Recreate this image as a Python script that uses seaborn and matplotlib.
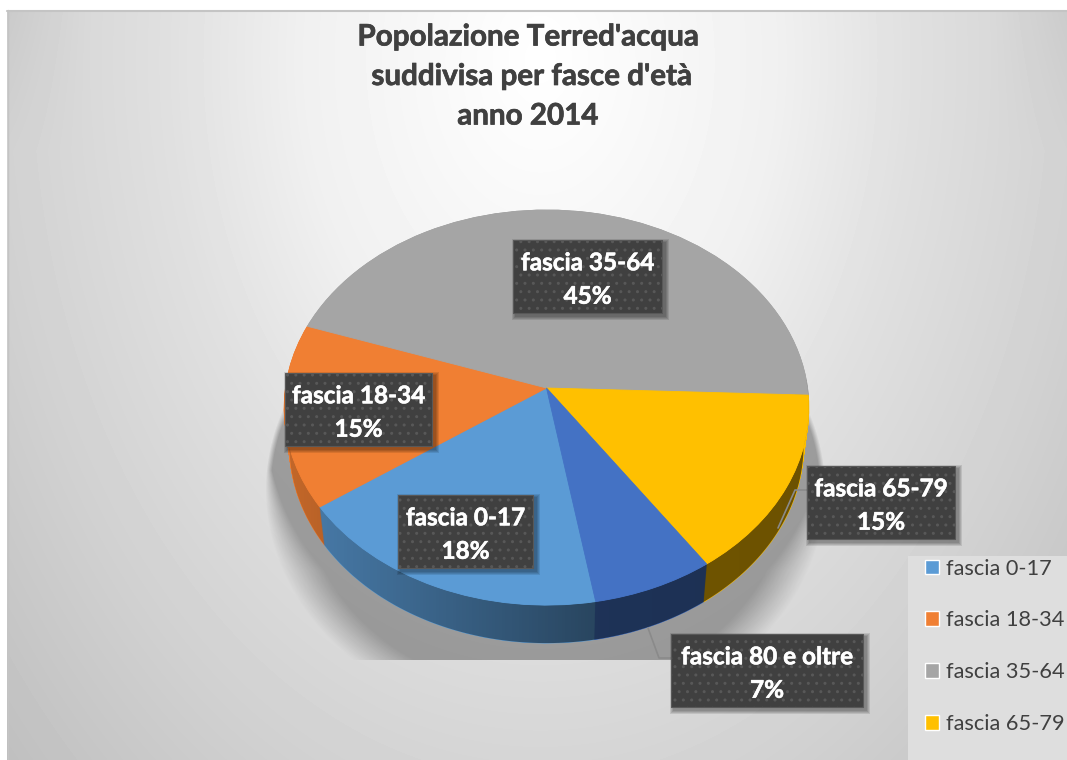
#!/usr/bin/env python
# -*- coding: utf-8 -*-
import matplotlib
matplotlib.use("Agg")
import matplotlib.pyplot as plt
import matplotlib.patheffects as pe
from matplotlib.patches import PathPatch, Rectangle
from matplotlib.path import Path
from matplotlib.transforms import Transform
import numpy as np
import seaborn as sns

# dati (le etichette mostrano i valori arrotondati)
fasce = ["fascia 0-17", "fascia 18-34", "fascia 35-64", "fascia 65-79", "fascia 80 e oltre"]
percentuali = [18.0, 15.0, 45.3, 14.9, 6.8]
colori = ["#5B9BD5", "#F07F33", "#A5A5A5", "#FFC000", "#4472C4"]
titolo = "Popolazione Terred'acqua\n suddivisa per fasce d'età\nanno 2014"

sns.set_theme(style="white")
plt.rcParams["font.family"] = ["Lato", "DejaVu Sans"]

W, H = 1067, 760
CX, CY = 546.5, 388
INIZIO = -80.2
SPESSORE = 38


class Prospettiva(Transform):
    """Disco unitario -> pixel, con prospettiva e spessore verso il basso."""
    input_dims = 2
    output_dims = 2
    is_affine = False
    has_inverse = False

    def __init__(self, t=0.0):
        super().__init__()
        self.t = t

    def transform_non_affine(self, values):
        v = np.asarray(values, dtype=float)
        d = 1 + 0.099 * v[:, 1]
        x = CX + 261 * (1 - 0.02 * self.t) * v[:, 0] / d
        y = CY - 195.6 * v[:, 1] / d + SPESSORE * self.t
        return np.column_stack([x, y])


def torta(ax, t, zorder):
    wedges, _ = ax.pie(percentuali, colors=sns.color_palette(colori), startangle=INIZIO,
                       counterclock=False, radius=1, frame=True)
    for w in wedges:
        w.set_transform(Prospettiva(t) + ax.transData)
        w.set_edgecolor(w.get_facecolor())
        w.set_linewidth(0.6)
        w.set_zorder(zorder)
        w.set_clip_on(False)
    return wedges


fig = plt.figure(figsize=(W / 100, H / 100), dpi=100, facecolor="white")
ax = fig.add_axes([0, 0, 1, 1])
ax.set_axis_off()

# sfondo sfumato
xx, yy = np.meshgrid(np.arange(7, W), np.arange(10, H))
dx = np.abs(xx - 540) / 530.0
r = np.sqrt(dx ** 2 + ((yy - 60) / 750.0) ** 2)
grigio = np.interp(r, [0, 0.45, 0.7, 1.05, 1.36], [255, 240, 224, 208, 192])
grigio -= 8 * np.clip((dx - 0.85) / 0.15, 0, 1) * np.clip(1 - yy / 150.0, 0, 1)
ax.imshow(grigio / 255, cmap="gray", vmin=0, vmax=1, extent=(7, W, H, 10), aspect="auto", zorder=0)
ax.plot([7, W], [10.5, 10.5], color="#c4c4c4", lw=1.5, zorder=1)
ax.plot([7.5, 7.5], [10, H], color="#c4c4c4", lw=1, zorder=1)

# ombra sotto la torta
sx, sy = np.meshgrid(np.arange(240, 850), np.arange(340, 660))
rs = np.sqrt(((sx - 545) / 280.0) ** 2 + ((sy - 490) / 234.0) ** 2)
morbido = 0.02 + 0.12 * np.clip((sy - 470) / 100.0, 0, 1)
ombra = np.zeros(sx.shape + (4,))
ombra[..., 3] = 0.3 * np.clip((1.0 - rs) / morbido, 0, 1) * np.clip((sy - 340) / 90.0, 0, 1)
ax.imshow(ombra, extent=(240, 850, 660, 340), aspect="auto", zorder=1.5)

# fianco della torta
for t in np.linspace(1, 0, SPESSORE + 1):
    torta(ax, t, 2)

ang = np.radians(np.linspace(10, -190, 200))
cerchio = np.column_stack([np.cos(ang), np.sin(ang)])
bordo = np.vstack([Prospettiva(0).transform(cerchio), Prospettiva(1).transform(cerchio)[::-1]])
clip = PathPatch(Path(np.vstack([bordo, bordo[:1]]), closed=True), transform=ax.transData,
                 facecolor="none", edgecolor="none")
ax.add_patch(clip)
sfum = np.zeros((1, 540, 4))
sfum[..., 3] = np.interp(np.arange(540), [0, 320, 540], [0.18, 0.56, 0.58])
im = ax.imshow(sfum, extent=(280, 820, 660, 380), aspect="auto", zorder=3)
im.set_clip_path(clip)

# faccia superiore
torta(ax, 0, 4)

# linee guida
ax.plot([807, 795, 778], [490, 490, 528], color="#8a8a8a", lw=1.2, zorder=3.5)
ax.plot([671, 659, 648], [658, 658, 628], color="#8a8a8a", lw=1.2, zorder=3.5)

# etichette
riquadri = [(398, 495, 135, 73), (285, 373, 147, 73), (513, 240, 149, 73),
            (807, 466, 148, 73), (671, 634, 192, 73)]
for fascia, perc, (x0, y0, w, h) in zip(fasce, percentuali, riquadri):
    for s in (4, 3, 2, 1):
        ax.add_patch(Rectangle((x0 + 3 - s, y0 + 3 - s), w + 2 * s, h + 2 * s, facecolor="black",
                               edgecolor="none", alpha=0.1, zorder=4.5))
    ax.add_patch(Rectangle((x0, y0), w, h, facecolor="#404040", edgecolor="#585858", hatch="..",
                           linewidth=0.8, zorder=5))
    ax.text(x0 + w / 2, y0 + h / 2 + 3, f"{fascia}\n{round(perc)}%", color="white", fontsize=17.5,
            fontweight="bold", ha="center", va="center", linespacing=1.55, zorder=6,
            path_effects=[pe.withStroke(linewidth=0.4, foreground="white")])

# titolo
ax.text(528, 76, titolo, color="#404040", fontsize=21.3, fontweight="bold", ha="center",
        va="center", linespacing=1.5, zorder=6,
        path_effects=[pe.withStroke(linewidth=0.5, foreground="#404040")])

# legenda (la quinta voce resta fuori dall'immagine nell'originale)
ax.add_patch(Rectangle((908, 556), W - 908, H - 556, facecolor="#dedede", edgecolor="none", zorder=5))
maniglie = [Rectangle((0, 0), 1, 1, facecolor=c) for c in colori[:4]]
ax.legend(maniglie, fasce[:4], loc="upper left", bbox_to_anchor=(918 / W, 1 - 552 / H), frameon=False,
          fontsize=15.7, handlelength=0.66, handleheight=0.66, handletextpad=0.32, labelspacing=1.46,
          labelcolor="#404040", borderpad=0.3, borderaxespad=0).set_zorder(6)

ax.set_aspect("auto")
ax.set_xlim(0, W)
ax.set_ylim(H, 0)
fig.savefig("out.png", dpi=100)
